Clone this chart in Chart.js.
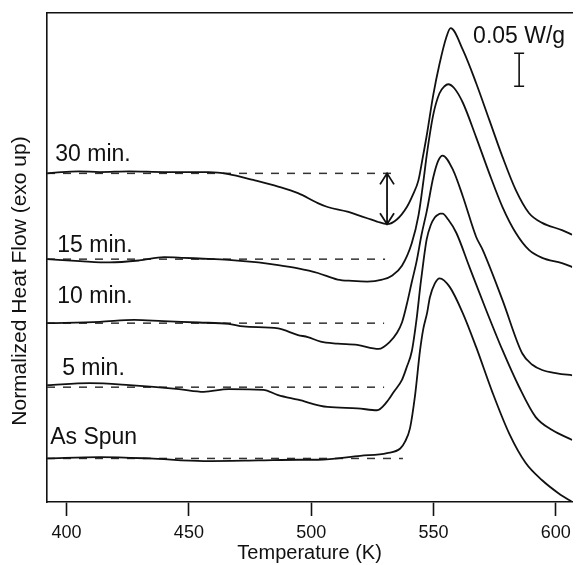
<!DOCTYPE html>
<html><head><meta charset="utf-8">
<script src="https://cdn.jsdelivr.net/npm/chart.js@4/dist/chart.umd.min.js"></script>
<style>html,body{margin:0;padding:0;background:#fff;}canvas{display:block;}</style>
</head><body>
<canvas id="c" width="577" height="565"></canvas>
<script>
// ---- data (Temperature in K, normalized heat flow in W/g, curves offset as in the figure) ----
const xTicks = [400, 450, 500, 550, 600];
const seriesNames = ['30 min.', '15 min.', '10 min.', '5 min.', 'As Spun'];

const t30 = [392.1, 398, 405, 413.6, 425.7, 440, 458.1, 466.2, 476.3, 486.5, 494.6, 502.7, 506.7, 514.8, 518.8, 522.9, 526.9, 531.0, 535.0, 539.1, 541.5, 543.8, 545.5, 547.2, 549.9, 552.4, 555.3, 557.0, 562.0, 567.4, 572.8, 578.2, 583.6, 589.0, 594.4, 602.5, 606.7];
const q30 = [0.498, 0.500, 0.501, 0.500, 0.501, 0.500, 0.500, 0.497, 0.488, 0.478, 0.468, 0.453, 0.447, 0.440, 0.435, 0.430, 0.425, 0.421, 0.428, 0.447, 0.465, 0.487, 0.520, 0.555, 0.617, 0.663, 0.705, 0.718, 0.685, 0.635, 0.579, 0.523, 0.473, 0.438, 0.423, 0.412, 0.405];

const t15 = [392.1, 405.5, 417.6, 429.7, 439.9, 448.0, 454.1, 466.2, 478.4, 486.5, 494.6, 502.7, 510.8, 516.8, 522.9, 529.0, 533.0, 537.1, 541.1, 543.9, 546.0, 547.2, 549.9, 552.4, 554.5, 556.0, 558.5, 562.0, 567.4, 572.8, 578.2, 583.6, 589.0, 594.4, 602.5, 606.7];
const q15 = [0.368, 0.365, 0.363, 0.366, 0.371, 0.370, 0.369, 0.367, 0.363, 0.359, 0.354, 0.347, 0.337, 0.335, 0.334, 0.337, 0.343, 0.358, 0.392, 0.435, 0.490, 0.525, 0.587, 0.619, 0.630, 0.633, 0.627, 0.605, 0.553, 0.498, 0.447, 0.408, 0.382, 0.370, 0.362, 0.356];

const t10 = [392.1, 413.6, 427.7, 439.5, 454.1, 466.2, 472.3, 486.5, 494.6, 498.6, 503.9, 510.8, 518.8, 527.6, 532.2, 535.0, 537.1, 539.1, 541.1, 543.1, 545.1, 547.2, 549.9, 551.9, 553.7, 558.0, 562.0, 567.4, 570.1, 578.2, 586.3, 590.4, 594.4, 600.5, 606.7];
const q10 = [0.271, 0.273, 0.276, 0.274, 0.272, 0.270, 0.266, 0.263, 0.253, 0.250, 0.243, 0.240, 0.238, 0.232, 0.243, 0.256, 0.272, 0.300, 0.333, 0.365, 0.405, 0.440, 0.492, 0.517, 0.525, 0.503, 0.463, 0.402, 0.382, 0.306, 0.225, 0.208, 0.200, 0.195, 0.192];

const t5 = [392.1, 409.5, 425.7, 446.0, 456.1, 466.2, 480.4, 486.5, 494.6, 506.7, 518.8, 526.9, 531.0, 533.8, 537.1, 539.1, 541.1, 543.1, 544.7, 546.0, 547.2, 548.8, 550.5, 551.7, 552.9, 553.7, 556.0, 559.3, 564.7, 571.5, 578.2, 584.9, 591.7, 598.5, 606.7];
const q5 = [0.177, 0.180, 0.177, 0.171, 0.167, 0.171, 0.170, 0.162, 0.155, 0.144, 0.142, 0.139, 0.152, 0.167, 0.185, 0.205, 0.228, 0.278, 0.330, 0.368, 0.398, 0.419, 0.431, 0.435, 0.437, 0.437, 0.428, 0.408, 0.356, 0.291, 0.230, 0.175, 0.129, 0.109, 0.094];

const tAS = [392.1, 413.6, 433.8, 456.1, 478.4, 494.6, 502.7, 520.1, 531.0, 536.4, 538.3, 540.4, 542.4, 544.5, 545.8, 547.4, 548.5, 550.5, 552.5, 556.6, 562.0, 567.4, 574.2, 580.9, 587.7, 594.4, 601.2, 606.7];
const qAS = [0.066, 0.068, 0.066, 0.062, 0.063, 0.064, 0.064, 0.070, 0.074, 0.081, 0.091, 0.112, 0.160, 0.230, 0.262, 0.287, 0.310, 0.331, 0.339, 0.326, 0.286, 0.235, 0.165, 0.104, 0.059, 0.033, 0.013, 0.000];

// dashed pre-transition baselines: level and end temperature of each
const baselineValues = [0.498, 0.368, 0.271, 0.174, 0.066];
const baselineEnds = [535.7, 530.2, 529.8, 529.8, 537.5];
const scaleBarValue = 0.05; // W/g
const scaleBarLabel = '0.05 W/g';

// ---- chart ----
const FONT = "'Liberation Sans', Arial, Helvetica, sans-serif";
Chart.defaults.font.family = FONT;
Chart.defaults.color = '#111';

const curveT = [t30, t15, t10, t5, tAS];
const curveQ = [q30, q15, q10, q5, qAS];
const datasets = [];
curveT.forEach((ts, k) => {
  datasets.push({
    label: seriesNames[k],
    data: ts.map((t, i) => ({x: t, y: curveQ[k][i]})),
    borderColor: '#111', borderWidth: 1.8, pointRadius: 0,
    cubicInterpolationMode: 'monotone', fill: false
  });
});
baselineValues.forEach((b, k) => {
  datasets.push({
    label: seriesNames[k] + ' baseline',
    data: [{x: 392, y: b}, {x: baselineEnds[k], y: b}],
    borderColor: '#333', borderWidth: 1.5, borderDash: [8, 8], pointRadius: 0, fill: false
  });
});

// placement of annotations (layout, not data)
const labelPos = [
  {t: 395.4, v: 0.526}, {t: 396.2, v: 0.389}, {t: 396.2, v: 0.311}, {t: 398.2, v: 0.202}, {t: 393.3, v: 0.097}
];
const barPos = {t: 585.0, top: 0.680, labelV: 0.705};

const annot = {
  id: 'annot',
  afterDatasetsDraw(chart) {
    const ctx = chart.ctx, xs = chart.scales.x, ys = chart.scales.y;
    ctx.save();
    ctx.strokeStyle = '#111'; ctx.fillStyle = '#111'; ctx.lineWidth = 1.8;
    // arrow from baseline to the minimum of the 30 min curve
    let mi = -1;
    q30.forEach((q, i) => { if (t30[i] > 500 && t30[i] < 545 && (mi < 0 || q < q30[mi])) mi = i; });
    const ax = xs.getPixelForValue(t30[mi]);
    const ay1 = ys.getPixelForValue(baselineValues[0]);
    const ay2 = ys.getPixelForValue(q30[mi]);
    ctx.beginPath();
    ctx.moveTo(ax, ay1); ctx.lineTo(ax, ay2);
    ctx.moveTo(ax - 7, ay1 + 11); ctx.lineTo(ax, ay1); ctx.lineTo(ax + 7, ay1 + 11);
    ctx.moveTo(ax - 7, ay2 - 11); ctx.lineTo(ax, ay2); ctx.lineTo(ax + 7, ay2 - 11);
    ctx.stroke();
    // scale bar
    const bx = xs.getPixelForValue(barPos.t);
    const by1 = ys.getPixelForValue(barPos.top);
    const by2 = ys.getPixelForValue(barPos.top - scaleBarValue);
    ctx.lineWidth = 1.6;
    ctx.beginPath();
    ctx.moveTo(bx, by1); ctx.lineTo(bx, by2);
    ctx.moveTo(bx - 5, by1); ctx.lineTo(bx + 5, by1);
    ctx.moveTo(bx - 5, by2); ctx.lineTo(bx + 5, by2);
    ctx.stroke();
    ctx.font = '23px ' + FONT;
    ctx.textAlign = 'center'; ctx.textBaseline = 'middle';
    ctx.fillText(scaleBarLabel, bx, ys.getPixelForValue(barPos.labelV));
    // curve labels
    ctx.textAlign = 'left';
    seriesNames.forEach((n, k) => {
      ctx.fillText(n, xs.getPixelForValue(labelPos[k].t), ys.getPixelForValue(labelPos[k].v));
    });
    // y axis title
    ctx.font = '21px ' + FONT;
    ctx.translate(20, 281);
    ctx.rotate(-Math.PI / 2);
    ctx.textAlign = 'center'; ctx.textBaseline = 'middle';
    ctx.fillText('Normalized Heat Flow (exo up)', 0, 0);
    ctx.restore();
  }
};

new Chart(document.getElementById('c'), {
  type: 'line',
  data: {datasets},
  plugins: [annot],
  options: {
    responsive: false, animation: false, devicePixelRatio: 1,
    layout: {padding: 0},
    plugins: {legend: {display: false}, tooltip: {enabled: false}},
    scales: {
      x: {
        type: 'linear', position: 'bottom', min: 392, max: 606.7,
        afterBuildTicks(s) { s.ticks = xTicks.map(v => ({value: v})); },
        afterFit(s) { s.height = 63; },
        grid: {display: true, drawOnChartArea: false, drawTicks: true, tickLength: 14, tickWidth: 1.6, tickColor: '#111'},
        border: {display: true, color: '#111', width: 1.6},
        ticks: {includeBounds: false, stepSize: 50, color: '#111', font: {size: 18}, padding: 6, maxRotation: 0, autoSkip: false},
        title: {display: true, text: 'Temperature (K)', color: '#111', font: {size: 20}, padding: {top: 0, bottom: 0}}
      },
      x2: {
        type: 'linear', position: 'top', min: 392, max: 606.7,
        afterFit(s) { s.height = 13; },
        grid: {display: false, drawTicks: false},
        border: {display: true, color: '#111', width: 1.6},
        ticks: {display: false}
      },
      y: {
        type: 'linear', position: 'left', min: 0, max: 0.741,
        afterFit(s) { s.width = 47; },
        grid: {display: false, drawTicks: false},
        border: {display: true, color: '#111', width: 1.6},
        ticks: {display: false}
      }
    }
  }
});
</script>
</body></html>
